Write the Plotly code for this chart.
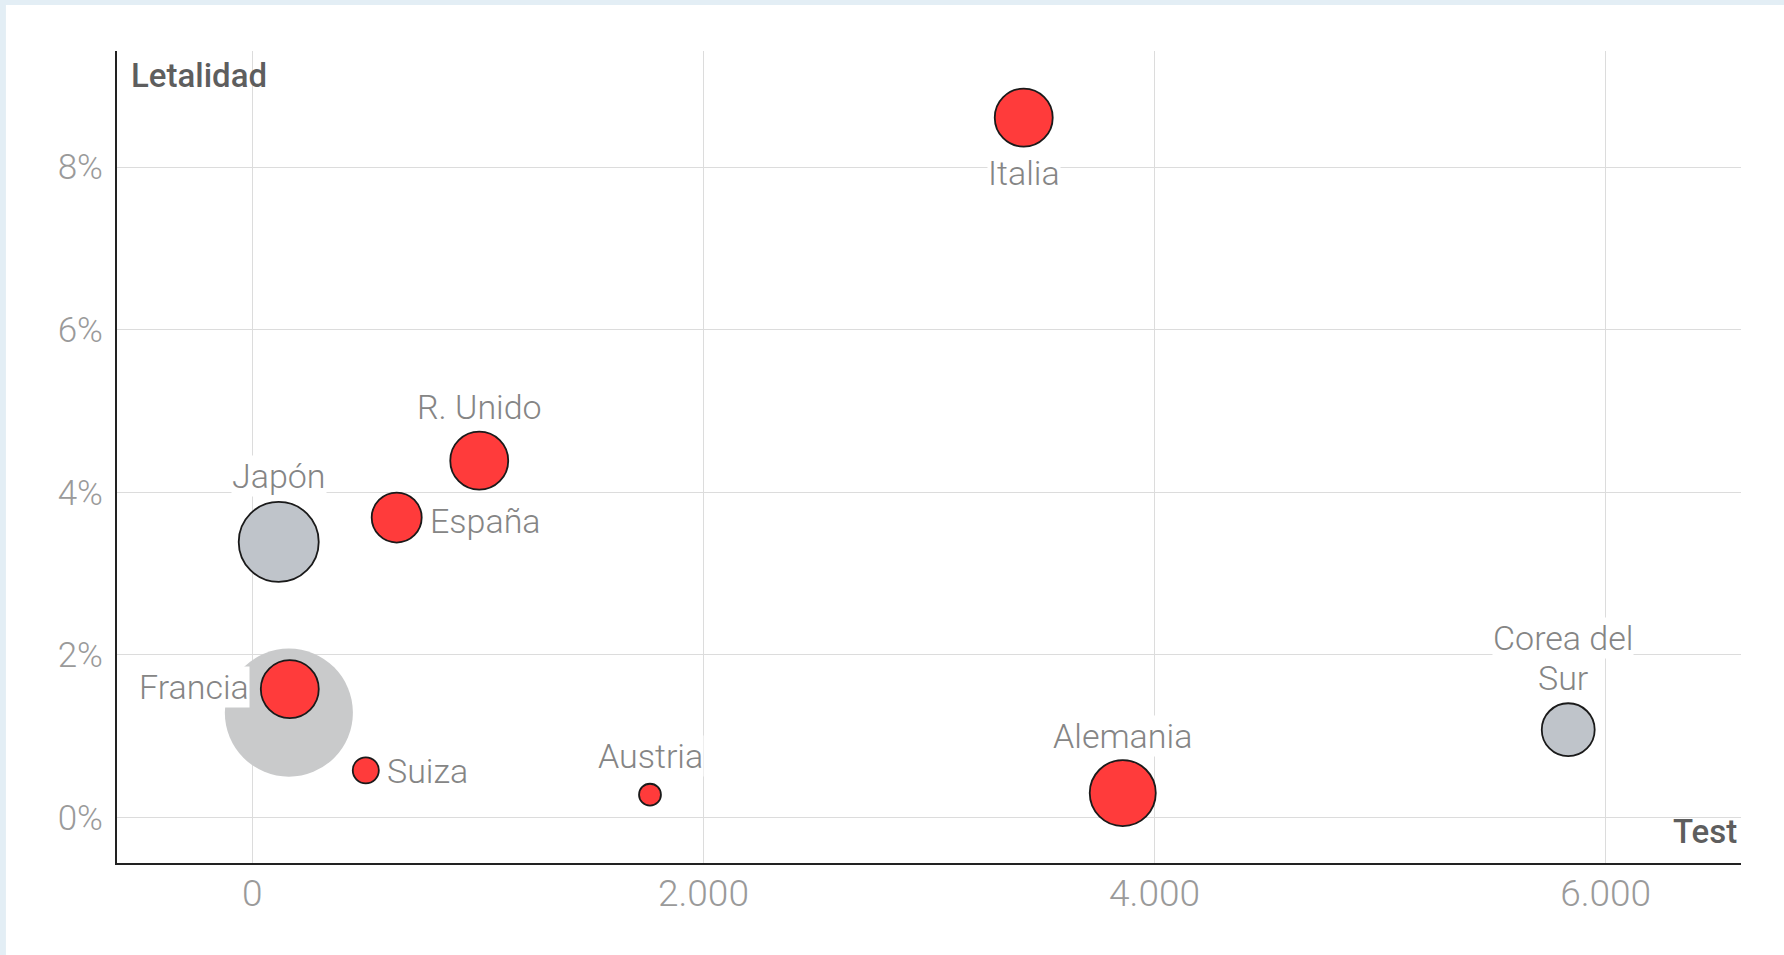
import plotly.graph_objects as go

# ---- data ----
paises = ["Italia", "R. Unido", "España", "Japón", "Francia", "Suiza", "Austria", "Alemania", "Corea del Sur"]
etiquetas = ["Italia", "R. Unido", "España", "Japón", "Francia", "Suiza", "Austria", "Alemania", "Corea del<br>Sur"]
test = [3420, 1006, 640, 117, 166, 503, 1763, 3859, 5834]
letalidad = [8.61, 4.39, 3.69, 3.39, 1.58, 0.58, 0.28, 0.30, 1.08]
tamano = [8.4, 8.4, 6.25, 16.0, 8.4, 1.7, 1.2, 10.9, 7.0]
grupo = ["Europa", "Europa", "Europa", "Asia", "Europa", "Europa", "Europa", "Europa", "Asia"]

fondo_test = [162]
fondo_letalidad = [1.29]
fondo_tamano = [41.0]

x_ticks = [0, 2000, 4000, 6000]
x_ticktext = ["0", "2.000", "4.000", "6.000"]
y_ticks = [0, 2, 4, 6, 8]
y_ticktext = ["0%", "2%", "4%", "6%", "8%"]

# ---- styles ----
colores = {"Europa": "#ff3b3b", "Asia": "#bfc4ca"}
FONT = "Roboto"
SIZEREF = 0.005
LABEL_SIZE = 34
LINE_GAP = 40  # px between lines of a multi-line label

# label placement: (xanchor, xshift, yshift)
pos = {
    "Italia": ("center", 0, -55),
    "R. Unido": ("center", 0, 54),
    "España": ("left", 32, -3),
    "Japón": ("center", 0, 66),
    "Francia": ("right", -40, 2),
    "Suiza": ("left", 20, -1),
    "Austria": ("center", 1, 39),
    "Alemania": ("center", 0, 57),
    "Corea del Sur": ("center", -5, 72),
}

fig = go.Figure()

fig.add_trace(go.Scatter(
    x=fondo_test, y=fondo_letalidad, mode="markers",
    marker=dict(size=fondo_tamano, sizemode="area", sizeref=SIZEREF,
                color="#c9cacb", opacity=1, line=dict(width=0)),
    hoverinfo="skip", showlegend=False,
))

fig.add_trace(go.Scatter(
    x=test, y=letalidad, mode="markers",
    marker=dict(size=tamano, sizemode="area", sizeref=SIZEREF, opacity=1,
                color=[colores[g] for g in grupo],
                line=dict(width=1.8, color="#1a1a1a")),
    text=paises, hoverinfo="text", showlegend=False,
))

annotations = []
for p, lab, xv, yv in zip(paises, etiquetas, test, letalidad):
    xa, xs, ys = pos[p]
    lines = lab.split("<br>")
    n = len(lines)
    for i, ln in enumerate(lines):
        off = ((n - 1) / 2 - i) * LINE_GAP
        annotations.append(dict(
            x=xv, y=yv, xref="x", yref="y", text=ln, showarrow=False,
            xanchor=xa, yanchor="middle", xshift=xs, yshift=ys + off,
            font=dict(family=FONT, size=LABEL_SIZE, color="#858585", weight=300),
            bgcolor="white" if i == 0 else "rgba(0,0,0,0)", borderpad=0, align="center",
        ))

annotations.append(dict(
    x=0, y=1, xref="paper", yref="paper", text="Letalidad", showarrow=False,
    xanchor="left", yanchor="top", xshift=12, yshift=-3,
    font=dict(family=FONT, size=33, color="#5e5e5e", weight=500),
))
annotations.append(dict(
    x=1, y=0.039, xref="paper", yref="paper", text="Test", showarrow=False,
    xanchor="right", yanchor="middle", xshift=-2,
    font=dict(family=FONT, size=33, color="#5e5e5e", weight=500),
))

# light-blue frame strips (top and left)
shapes = [
    dict(type="rect", xref="paper", yref="paper", x0=-0.08, x1=1.05, y0=1.0567, y1=1.08,
         fillcolor="#e3eef5", line=dict(width=0), layer="below"),
    dict(type="rect", xref="paper", yref="paper", x0=-0.08, x1=-0.0684, y0=-0.15, y1=1.08,
         fillcolor="#e3eef5", line=dict(width=0), layer="below"),
]

fig.update_layout(
    width=1784, height=955,
    margin=dict(l=117, r=43, t=51, b=92),
    paper_bgcolor="white", plot_bgcolor="white",
    annotations=annotations, shapes=shapes,
    font=dict(family=FONT),
)

fig.update_xaxes(
    range=[-600, 6600], tickmode="array", tickvals=x_ticks, ticktext=x_ticktext,
    showgrid=True, gridcolor="#dcdcdc", gridwidth=1, zeroline=False,
    showline=True, linecolor="#222222", linewidth=2,
    ticks="", ticklabelstandoff=-3,
    tickfont=dict(family=FONT, size=37, color="#9a9a9a", weight=300),
)
fig.update_yaxes(
    range=[-0.56, 9.43], tickmode="array", tickvals=y_ticks, ticktext=y_ticktext,
    showgrid=True, gridcolor="#dcdcdc", gridwidth=1, zeroline=False,
    showline=True, linecolor="#222222", linewidth=2,
    ticks="", ticklabelstandoff=5,
    tickfont=dict(family=FONT, size=35, color="#9a9a9a", weight=300),
)

fig.write_html("out.html")
